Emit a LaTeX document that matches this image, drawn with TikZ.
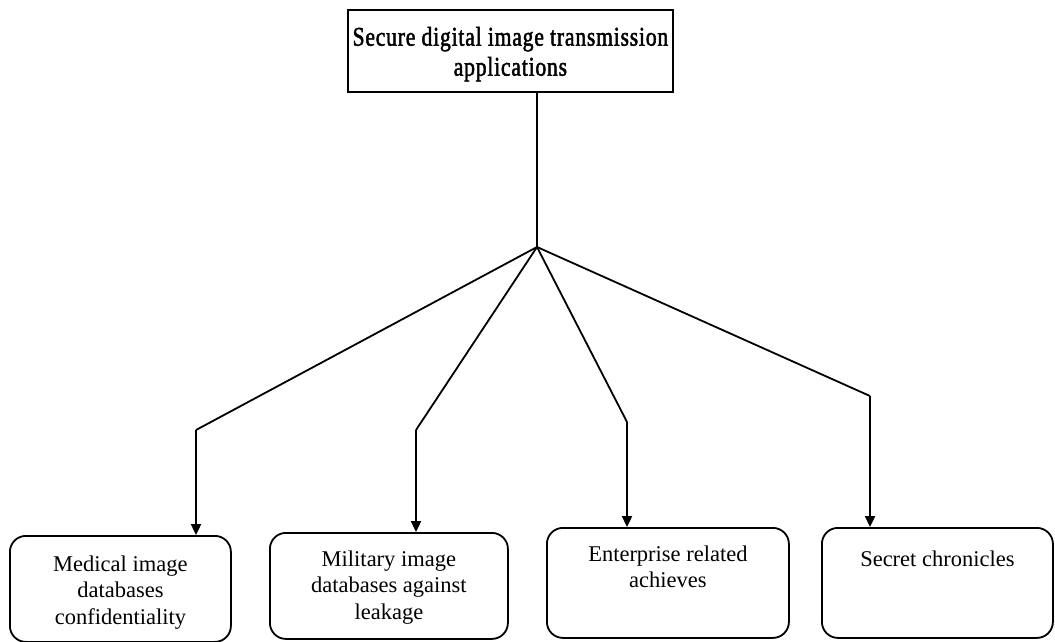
\documentclass[tikz,border=0pt]{standalone}
\usepackage{fontspec}
\setmainfont{Liberation Serif}
\newfontfamily\titlefont[FakeStretch=0.8,LetterSpace=3,FakeBold=1.8]{Liberation Serif}
\usetikzlibrary{arrows.meta}
\tikzset{
  x=1pt, y=-1pt,
  wire/.style={line width=1.8pt},
  feed/.style={line width=2.3pt, -{Triangle[width=10pt,length=11pt]}},
  appbox/.style={draw, line width=1.8pt, rounded corners=16pt, inner sep=0pt, anchor=north west},
  headbox/.style={draw, line width=1.8pt, inner sep=0pt, anchor=north west},
}
% box with text hanging from its top edge
\newcommand{\boxtext}[4]{\parbox[c][#2pt][t]{#1pt}{\centering\vspace*{#3pt}\fontsize{22.5}{26.5}\selectfont #4\par}}
% title box: fixed size, lines never wrapped
\newcommand{\headtext}[2]{\parbox[c][82pt][t]{325pt}{\vspace*{17pt}\titlefont\fontsize{27}{30}\selectfont
  \makebox[325pt][c]{#1}\\\makebox[325pt][c]{#2}\par}}
\begin{document}
\begin{tikzpicture}
\useasboundingbox (0,0) rectangle (1055,641);
\begin{scope}
\clip (0,0) rectangle (1055,641);
\node[headbox] (head) at (347,9) {\headtext{Secure digital image transmission}{applications}};

\node[appbox] (med) at (9,535) {\boxtext{221}{106}{19.5}{Medical image\\databases\\confidentiality}};
\node[appbox] (mil) at (269,532) {\boxtext{238}{106}{17.5}{Military image\\databases against\\leakage}};
\node[appbox] (ent) at (546,527) {\boxtext{242}{110}{17.5}{Enterprise related\\achieves}};
\node[appbox] (sec) at (821,527) {\boxtext{231}{110}{22.5}{Secret chronicles}};
\end{scope}

\coordinate (hub) at (537,247);
\coordinate (k1) at (196,430);
\coordinate (k2) at (416,430);
\coordinate (k3) at (627,422);
\coordinate (k4) at (870,396);

\draw[wire] (head.south -| hub) -- (hub);
\draw[wire] (hub) -- (k1);
\draw[wire] (hub) -- (k2);
\draw[wire] (hub) -- (k3);
\draw[wire] (hub) -- (k4);
\draw[feed] (k1) -- (k1 |- med.north);
\draw[feed] (k2) -- (k2 |- mil.north);
\draw[feed] (k3) -- (k3 |- ent.north);
\draw[feed] (k4) -- (k4 |- sec.north);
\end{tikzpicture}
\end{document}
